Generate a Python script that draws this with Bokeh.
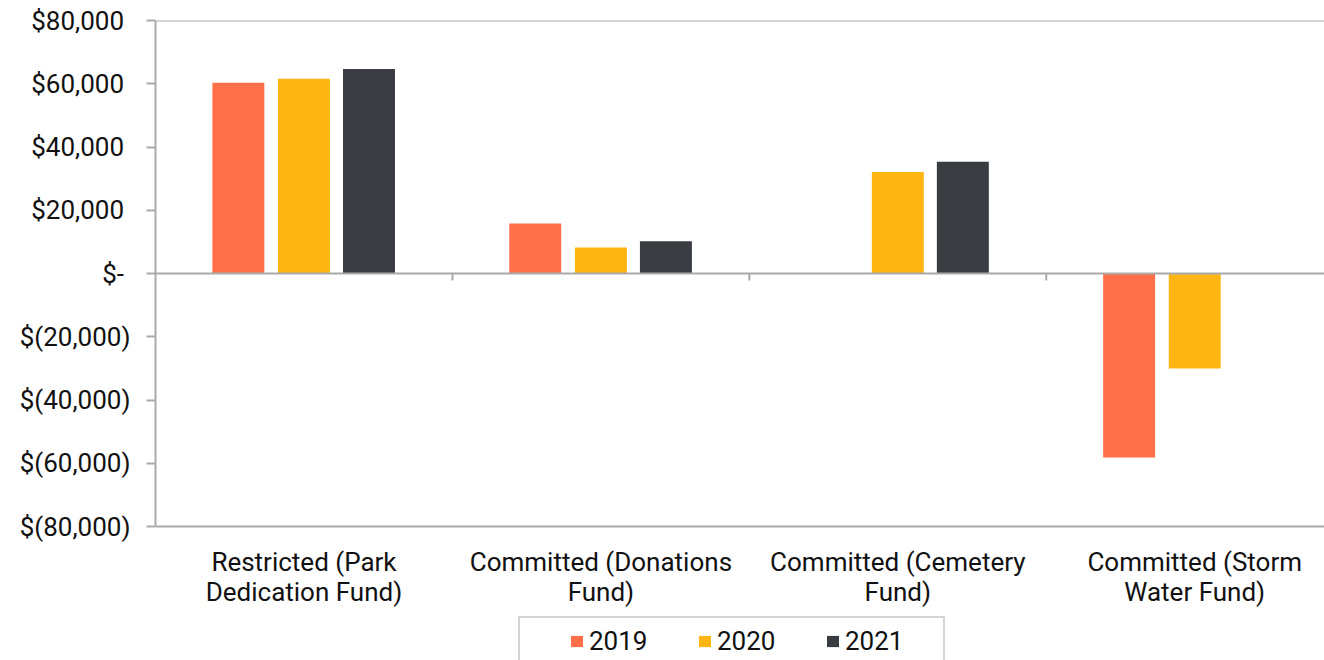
import numpy as np
from bokeh.plotting import figure
from bokeh.models import Range1d, FixedTicker, Span, Legend, LegendItem, ColumnDataSource
from bokeh.core.properties import value
from bokeh.embed import file_html
from bokeh.resources import INLINE

# ---- data ----
categories = ["Restricted (Park Dedication Fund)", "Committed (Donations Fund)",
              "Committed (Cemetery Fund)", "Committed (Storm Water Fund)"]
category_labels = ["Restricted (Park\nDedication Fund)", "Committed (Donations\nFund)",
                   "Committed (Cemetery\nFund)", "Committed (Storm\nWater Fund)"]
years = ["2019", "2020", "2021"]
values_2019 = [60300, 15800, None, -58200]
values_2020 = [61600, 8200, 32100, -30000]
values_2021 = [64700, 10200, 35300, None]
y_ticks = [-80000, -60000, -40000, -20000, 0, 20000, 40000, 60000, 80000]
y_tick_labels = ["$(80,000)", "$(60,000)", "$(40,000)", "$(20,000)", "$-",
                 "$20,000", "$40,000", "$60,000", "$80,000"]
colors = ["#FF6F4A", "#FFB612", "#393D41"]

# ---- styles ----
FONT = "Roboto"
FS = "26px"
TXT = "#111111"
LINE = "#AAAAAA"
offsets = [-0.221, 0.0, 0.219]
bar_w = 0.175

W, H = 1324, 660
LEFT, TOP = 155, 20
AXIS_PX = 506            # pixel height of the value axis span
n = len(categories)
centers = np.arange(n) + 0.5
y_min, y_max = y_ticks[0], y_ticks[-1]
px_per_unit = AXIS_PX / (y_max - y_min)
frame_h = H - TOP
y_lo = y_max - frame_h / px_per_unit      # extend frame below the axis for labels + legend

p = figure(width=W, height=H, x_range=Range1d(0, 3.937), y_range=Range1d(y_lo, y_max),
           toolbar_location=None, output_backend="svg",
           min_border_left=LEFT, min_border_right=0, min_border_top=TOP, min_border_bottom=0)
p.outline_line_color = None
p.background_fill_color = "white"
p.border_fill_color = "white"
p.grid.visible = False
p.xaxis.visible = False

series = [values_2019, values_2020, values_2021]
renderers = []
for yr, vals, off, col in zip(years, series, offsets, colors):
    tops = np.array([np.nan if v is None else v for v in vals], dtype=float)
    src = ColumnDataSource(dict(x=centers + off, top=tops))
    r = p.vbar(x="x", top="top", bottom=0, width=bar_w, source=src,
               fill_color=col, line_color=None)
    renderers.append(r)

# frame lines
for yv in (y_max, y_min, 0):
    p.add_layout(Span(location=yv, dimension="width", line_color=LINE, line_width=2))

# category division ticks on the zero line
tick_px = 7
bounds = np.arange(1, n)
p.segment(x0=bounds, x1=bounds, y0=0, y1=-tick_px / px_per_unit, line_color=LINE, line_width=2)

# category labels (below the value axis bottom)
p.text(x=centers, y=y_min, text=category_labels, text_align="center", text_baseline="top",
       y_offset=20, text_font=value(FONT), text_font_size=FS, text_color=TXT,
       text_line_height=1.0)

# y axis (accounting style: positives padded where negatives have ")")
ya = p.yaxis[0]
ya.ticker = FixedTicker(ticks=y_ticks)
ya.bounds = (y_min, y_max)
ya.major_label_overrides = {t: (l if l.endswith(")") else l + "\u00a0")
                            for t, l in zip(y_ticks, y_tick_labels)}
ya.axis_line_color = LINE
ya.axis_line_width = 2
ya.major_tick_line_color = LINE
ya.major_tick_line_width = 2
ya.major_tick_out = 9
ya.major_tick_in = 0
ya.minor_tick_line_color = None
ya.major_label_standoff = 16
ya.major_label_text_font = FONT
ya.major_label_text_font_size = FS
ya.major_label_text_color = TXT

legend = Legend(items=[LegendItem(label=y, renderers=[r]) for y, r in zip(years, renderers)],
                orientation="horizontal", location=(363, -6),
                label_text_font=FONT, label_text_font_size=FS, label_text_color=TXT,
                glyph_width=15, glyph_height=14, label_standoff=5,
                label_width=90, spacing=18, padding=8, margin=0,
                title=" ", title_location="left", title_text_font_size="1px", title_standoff=40,
                border_line_color=LINE, border_line_width=2, background_fill_color="white")
p.add_layout(legend, "center")

open("out.html", "w").write(file_html(p, INLINE))
